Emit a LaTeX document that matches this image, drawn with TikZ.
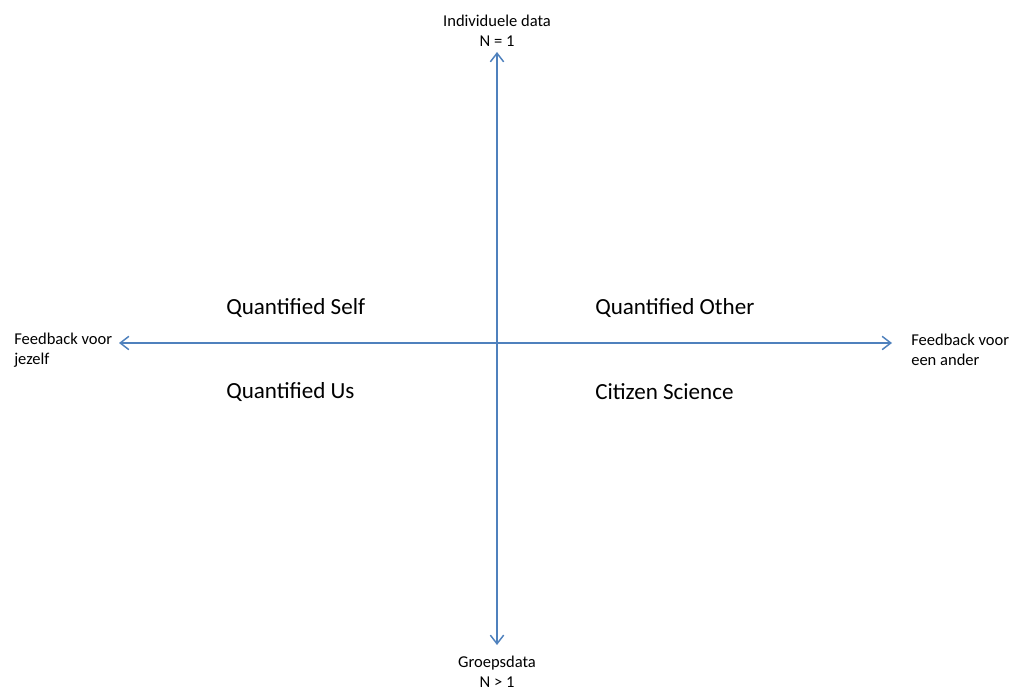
\documentclass[tikz,border=0pt]{standalone}
\usepackage{fontspec}
\setmainfont{Carlito}
\usetikzlibrary{arrows.meta}
\definecolor{axisblue}{RGB}{79,129,189}
\tikzset{
	axis/.style = {axisblue, line width=1.1pt, {Straight Barb[length=6.5pt,width=10pt]}-{Straight Barb[length=6.5pt,width=10pt]}},
	axislabel/.style = {font=\fontsize{12.4}{15}\selectfont, inner sep=0pt},
	quadrant/.style = {font=\fontsize{17.3}{20}\selectfont, inner sep=0pt, anchor=west}
}
\begin{document}
\begin{tikzpicture} [x=0.75pt, y=-0.75pt]
	\useasboundingbox (0,0) rectangle (1011,691);
	% axis ends
	\coordinate (north) at (497,52);
	\coordinate (south) at (497,645);
	\coordinate (west) at (119,343);
	\coordinate (east) at (892,343);
	\draw [axis] (north) -- (south);
	\draw [axis] (west) -- (east);
	% axis labels
	\node [axislabel, align=center] (individueel) at (497,31) {Individuele data\\N = 1};
	\node [axislabel, align=center] (groep) at (497,672) {Groepsdata\\N > 1};
	\node [axislabel, align=left, anchor=west] (zelf) at (14,350) {Feedback voor\\jezelf};
	\node [axislabel, align=left, anchor=west] (ander) at (911,350) {Feedback voor\\een ander};
	% quadrants
	\node [quadrant] (self) at (226,308) {Quantified Self};
	\node [quadrant] (other) at (595,308) {Quantified Other};
	\node [quadrant] (us) at (226,392) {Quantified Us};
	\node [quadrant] (citizen) at (595,392) {Citizen Science};
\end{tikzpicture}
\end{document}
